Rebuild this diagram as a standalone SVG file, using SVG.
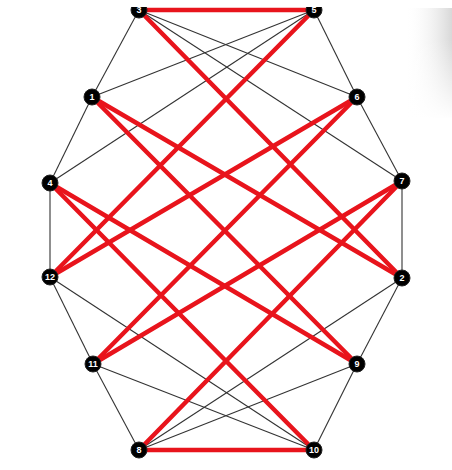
<svg xmlns="http://www.w3.org/2000/svg" width="452" height="470" viewBox="0 0 452 470">
<defs>
<style>
.t{stroke:#333;stroke-width:1.1;fill:none}
.r{stroke:#e8141c;stroke-width:4.5;fill:none;stroke-linecap:round}
.n circle{fill:#000;stroke:#222;stroke-width:1}
.n text{fill:#fff;font-family:"Liberation Sans",Arial,sans-serif;font-size:9px;font-weight:bold;text-anchor:middle}
</style>
<linearGradient id="sh" x1="0" y1="0" x2="1" y2="0">
<stop offset="0" stop-color="#fff" stop-opacity="0"/>
<stop offset="1" stop-color="#d8d8d8"/>
</linearGradient>
<linearGradient id="fade" x1="0" y1="0" x2="0" y2="1">
<stop offset="0" stop-color="#fff" stop-opacity="0"/>
<stop offset="1" stop-color="#fff"/>
</linearGradient>
</defs>
<rect width="452" height="470" fill="#fff"/>
<rect x="405" y="8" width="47" height="110" fill="url(#sh)"/>
<rect x="405" y="40" width="47" height="80" fill="url(#fade)"/>
<g id="connectors">
<g class="t">
<line x1="139" y1="10" x2="92" y2="97"/>
<line x1="92" y1="97" x2="50" y2="183"/>
<line x1="50" y1="183" x2="50" y2="277"/>
<line x1="50" y1="277" x2="93" y2="364"/>
<line x1="93" y1="364" x2="139" y2="450"/>
<line x1="314" y1="10" x2="357" y2="97"/>
<line x1="357" y1="97" x2="402" y2="181"/>
<line x1="402" y1="181" x2="402" y2="278"/>
<line x1="402" y1="278" x2="357" y2="364"/>
<line x1="357" y1="364" x2="314" y2="450"/>
<line x1="139" y1="10" x2="357" y2="97"/>
<line x1="139" y1="10" x2="402" y2="181"/>
<line x1="314" y1="10" x2="92" y2="97"/>
<line x1="314" y1="10" x2="50" y2="183"/>
<line x1="139" y1="450" x2="357" y2="364"/>
<line x1="139" y1="450" x2="402" y2="278"/>
<line x1="314" y1="450" x2="93" y2="364"/>
<line x1="314" y1="450" x2="50" y2="277"/>
</g>
<g class="r">
<line x1="139" y1="10" x2="314" y2="10"/>
<line x1="139" y1="450" x2="314" y2="450"/>
<line x1="139" y1="10" x2="402" y2="278"/>
<line x1="314" y1="10" x2="50" y2="277"/>
<line x1="139" y1="450" x2="402" y2="181"/>
<line x1="314" y1="450" x2="50" y2="183"/>
<line x1="92" y1="97" x2="402" y2="278"/>
<line x1="92" y1="97" x2="357" y2="364"/>
<line x1="357" y1="97" x2="50" y2="277"/>
<line x1="357" y1="97" x2="93" y2="364"/>
<line x1="50" y1="183" x2="357" y2="364"/>
<line x1="402" y1="181" x2="93" y2="364"/>
</g>
</g>
<g id="node3" class="n"><circle cx="139" cy="10" r="8"/><text x="139" y="13.2">3</text></g>
<g id="node5" class="n"><circle cx="314" cy="10" r="8"/><text x="314" y="13.2">5</text></g>
<g id="node1" class="n"><circle cx="92" cy="97" r="8"/><text x="92" y="100.2">1</text></g>
<g id="node6" class="n"><circle cx="357" cy="97" r="8"/><text x="357" y="100.2">6</text></g>
<g id="node4" class="n"><circle cx="50" cy="183" r="8"/><text x="50" y="186.2">4</text></g>
<g id="node7" class="n"><circle cx="402" cy="181" r="8"/><text x="402" y="184.2">7</text></g>
<g id="node12" class="n"><circle cx="50" cy="277" r="8"/><text x="50" y="280.2">12</text></g>
<g id="node2" class="n"><circle cx="402" cy="278" r="8"/><text x="402" y="281.2">2</text></g>
<g id="node11" class="n"><circle cx="93" cy="364" r="8"/><text x="93" y="367.2">11</text></g>
<g id="node9" class="n"><circle cx="357" cy="364" r="8"/><text x="357" y="367.2">9</text></g>
<g id="node8" class="n"><circle cx="139" cy="450" r="8"/><text x="139" y="453.2">8</text></g>
<g id="node10" class="n"><circle cx="314" cy="450" r="8"/><text x="314" y="453.2">10</text></g>
<rect x="0" y="0" width="452" height="7" fill="#fff"/>
</svg>
